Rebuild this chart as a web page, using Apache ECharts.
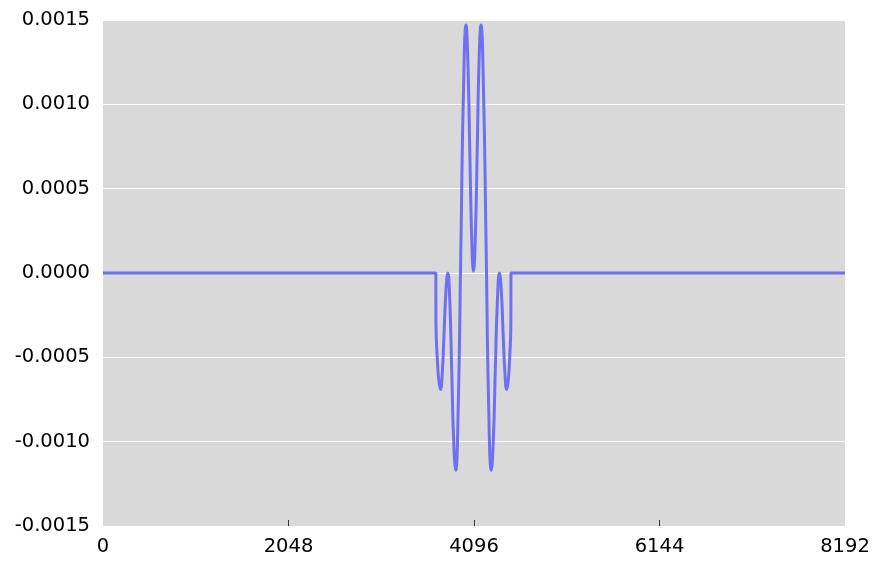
<!DOCTYPE html>
<html>
<head>
<meta charset="utf-8">
<script src="https://cdn.jsdelivr.net/npm/echarts@6/dist/echarts.min.js"></script>
<style>
html,body{margin:0;padding:0;background:#fff;}
#chart{width:876px;height:562px;}
</style>
</head>
<body>
<div id="chart"></div>
<script>
// sample index (x) and amplitude (y)
var xValues = [0, 3675, 3676, 3690, 3708, 3726, 3746, 3766, 3787, 3807, 3829, 3850, 3872, 3894, 3922, 3951, 3980, 4008, 4028, 4049, 4070, 4090, 4111, 4132, 4152, 4173, 4201, 4230, 4258, 4287, 4309, 4331, 4354, 4377, 4397, 4417, 4437, 4457, 4474, 4490, 4503, 4504, 8192];
var yValues = [0, 0, -0.0003, -0.0005, -0.00064, -0.00069, -0.00059, -0.00035, -0.0001, 0, -0.00017, -0.00058, -0.001, -0.00117, -0.00079, 0.00015, 0.00108, 0.00147, 0.00126, 0.00074, 0.00022, 0.00001, 0.00022, 0.00074, 0.00126, 0.00147, 0.00108, 0.00015, -0.00079, -0.00117, -0.001, -0.00058, -0.00017, 0, -0.0001, -0.00035, -0.00059, -0.00069, -0.00064, -0.0005, -0.0003, 0, 0];
var xTicks = [0, 2048, 4096, 6144, 8192];
var xInnerTicks = [2048, 4096, 6144];
var yTicks = [-0.0015, -0.001, -0.0005, 0, 0.0005, 0.001, 0.0015];

var data = xValues.map(function (x, i) { return [x, yValues[i]]; });

var chart = echarts.init(document.getElementById('chart'));
chart.setOption({
  animation: false,
  backgroundColor: '#ffffff',
  grid: {
    left: 103, right: 31, top: 20, bottom: 36,
    show: true, backgroundColor: '#d9d9d9', borderWidth: 0
  },
  xAxis: {
    type: 'value',
    min: xTicks[0], max: xTicks[xTicks.length - 1], interval: 2048,
    axisLine: { show: false, onZero: false },
    axisTick: { show: true, inside: true, length: 6, customValues: xInnerTicks, lineStyle: { color: '#333', width: 1 } },
    splitLine: { show: false },
    axisLabel: {
      color: '#000', fontSize: 19.5, fontFamily: 'DejaVu Sans', margin: 11,
      customValues: xTicks,
      formatter: function (v) { return String(v); }
    }
  },
  yAxis: {
    type: 'value',
    min: yTicks[0], max: yTicks[yTicks.length - 1], interval: 0.0005,
    axisLine: { show: false },
    axisTick: { show: false },
    splitLine: { show: true, lineStyle: { color: '#ffffff', width: 1.2 } },
    axisLabel: {
      color: '#000', fontSize: 19.5, fontFamily: 'DejaVu Sans', margin: 13,
      formatter: function (v) { return (Math.abs(v) < 1e-12 ? 0 : v).toFixed(4); }
    }
  },
  series: [{
    type: 'line',
    data: data,
    showSymbol: false,
    smooth: 0.5,
    lineStyle: { color: '#6f6ff2', width: 3 },
    itemStyle: { color: '#6f6ff2' }
  }]
});
</script>
</body>
</html>
